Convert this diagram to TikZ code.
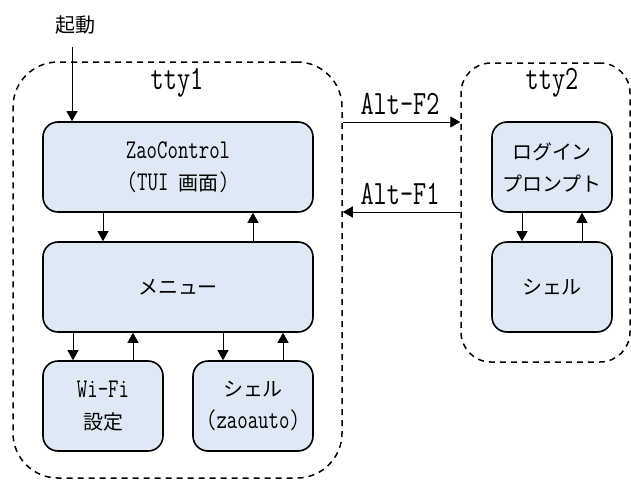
\documentclass[tikz,border=0pt]{standalone}
\usepackage{fontspec}
\setmainfont{Latin Modern Mono}[FakeStretch=0.75]
\newfontfamily\jp{Noto Sans CJK JP}[Scale=0.74]
\usetikzlibrary{arrows.meta,calc}

\definecolor{boxfill}{RGB}{222,233,245}

\tikzset{
  stepbox/.style={draw=black, line width=1.6pt, fill=boxfill, rounded corners=15pt,
    align=center, inner sep=0pt, font=\fontsize{27}{32}\selectfont},
  ttyframe/.style={draw=black, line width=1.5pt, dash pattern=on 6pt off 5pt,
    inner sep=0pt},
  arr/.style={draw=black, line width=0.9pt, -{Triangle[length=10pt,width=11pt]}},
  lbl/.style={inner sep=0pt, font=\fontsize{34}{36}\selectfont},
}

\begin{document}
\begin{tikzpicture}[x=1pt,y=-1pt]
\useasboundingbox (0,0) rectangle (631,479);

% terminal frames
\node[ttyframe, rounded corners=45pt, minimum width=329pt, minimum height=416pt] (tty1) at (177.5,270) {};
\node[ttyframe, rounded corners=30pt, minimum width=169pt, minimum height=299pt] (tty2) at (545.5,212.5) {};
\node[lbl] (l1) at (177,83) {tty1};
\node[lbl] (l2) at (552,83) {tty2};

% tty1 contents
\node[stepbox, minimum width=270pt, minimum height=90pt] (zao) at (178,167)
  {ZaoControl\\({TUI} {\jp 画面})};
\node[stepbox, minimum width=270pt, minimum height=90pt] (menu) at (178,287)
  {{\jp メニュー}};
\node[stepbox, minimum width=120pt, minimum height=90pt] (wifi) at (103,406)
  {Wi-Fi\\{\jp 設定}};
\node[stepbox, minimum width=120pt, minimum height=90pt] (sh1) at (253,406)
  {{\jp シェル}\\(zaoauto)};

% tty2 contents
\node[stepbox, minimum width=120pt, minimum height=90pt] (login) at (552,167)
  {{\jp ログイン}\\{\jp プロンプト}};
\node[stepbox, minimum width=120pt, minimum height=90pt] (sh2) at (552,287)
  {{\jp シェル}};

% start
\node[inner sep=0pt, font=\fontsize{27}{30}\selectfont\jp] (boot) at (75,25) {起動};
\coordinate (start) at (72,47);
\draw[arr] (start) -- (start |- zao.north);

% flow inside tty1
\draw[arr] ([xshift=-75pt]zao.south) -- ([xshift=-75pt]zao.south |- menu.north);
\draw[arr] ([xshift=75pt]menu.north) -- ([xshift=75pt]menu.north |- zao.south);
\draw[arr] ([xshift=-30pt]wifi.north |- menu.south) -- ([xshift=-30pt]wifi.north);
\draw[arr] ([xshift=30pt]wifi.north) -- ([xshift=30pt]wifi.north |- menu.south);
\draw[arr] ([xshift=-30pt]sh1.north |- menu.south) -- ([xshift=-30pt]sh1.north);
\draw[arr] ([xshift=30pt]sh1.north) -- ([xshift=30pt]sh1.north |- menu.south);

% flow inside tty2
\draw[arr] ([xshift=-30pt]login.south) -- ([xshift=-30pt]login.south |- sh2.north);
\draw[arr] ([xshift=30pt]sh2.north) -- ([xshift=30pt]sh2.north |- login.south);

% switching between terminals
\coordinate (f2) at (0,122);
\coordinate (f1) at (0,212);
\draw[arr] (tty1.east |- f2) -- (tty2.west |- f2);
\draw[arr] (tty2.west |- f1) -- (tty1.east |- f1);
\node[lbl] (altf2) at (400,104) {Alt-F2};
\node[lbl] (altf1) at (400,194) {Alt-F1};
\end{tikzpicture}
\end{document}
